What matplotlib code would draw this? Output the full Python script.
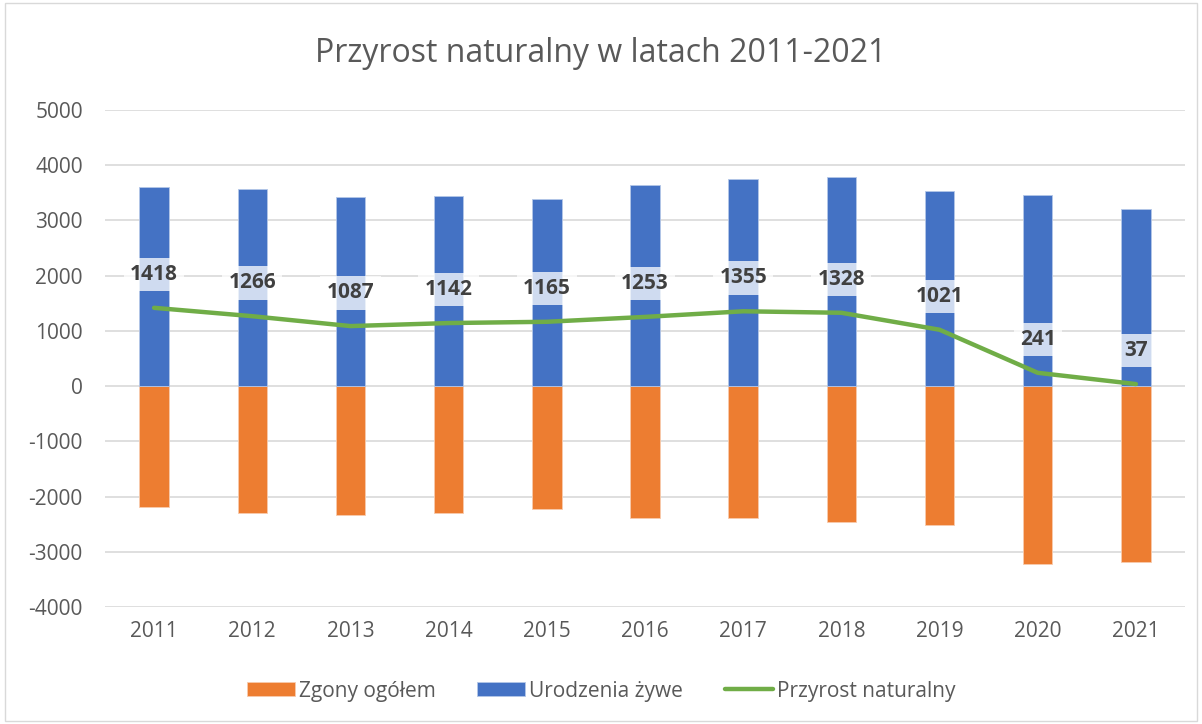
import matplotlib
matplotlib.use("Agg")
import matplotlib.pyplot as plt
import numpy as np

plt.rcParams['font.family'] = ['Open Sans', 'DejaVu Sans']
plt.rcParams['axes.unicode_minus'] = False

lata = ['2011', '2012', '2013', '2014', '2015', '2016', '2017', '2018', '2019', '2020', '2021']
urodzenia = [3600, 3565, 3420, 3445, 3390, 3640, 3750, 3780, 3540, 3455, 3215]
zgony = [-2182, -2299, -2333, -2303, -2225, -2387, -2395, -2452, -2519, -3214, -3178]
przyrost = [1418, 1266, 1087, 1142, 1165, 1253, 1355, 1328, 1021, 241, 37]

szary = '#595959'

fig = plt.figure(figsize=(12.02, 7.24), dpi=100)
ax = fig.add_axes([105/1202, 1-607/724, 1080/1202, 497/724])

x = np.arange(len(lata))
b1 = ax.bar(x, zgony, width=0.3, color='#ED7D31', edgecolor='#F8CBAD', linewidth=0.6, label='Zgony ogółem', zorder=2)
b2 = ax.bar(x, urodzenia, width=0.3, color='#4472C4', edgecolor='#B4C7E7', linewidth=0.6, label='Urodzenia żywe', zorder=2)
l1, = ax.plot(x, przyrost, color='#70AD47', linewidth=3.2, solid_capstyle='round', label='Przyrost naturalny', zorder=3)

# etykiety nad linia
for xi, v in zip(x, przyrost):
    ax.annotate(str(v), (xi, v), xytext=(0, 24), textcoords='offset points', ha='center', va='center',
                fontsize=15, fontweight='bold', color='#404040', zorder=4,
                bbox=dict(boxstyle='square,pad=0.3', facecolor='white', edgecolor='none', alpha=0.75))

ax.set_xlim(-0.5, 10.5)
ax.set_ylim(-4000, 5000)
ax.set_yticks(range(-4000, 5001, 1000))
ax.set_xticks(x)
ax.set_xticklabels(lata)
ax.yaxis.grid(True, color='#D9D9D9', linewidth=1.2, zorder=0)
ax.set_axisbelow(True)
for s in ax.spines.values():
    s.set_visible(False)
ax.tick_params(length=0, labelsize=15, labelcolor=szary)
ax.tick_params(axis='x', pad=10)
ax.tick_params(axis='y', pad=16)

fig.text(0.5, 1-54/724, 'Przyrost naturalny w latach 2011-2021', ha='center', va='center', fontsize=23, color=szary)

leg = fig.legend(handles=[b1, b2, l1], loc='center', bbox_to_anchor=(0.5, 1-691/724), ncol=3, frameon=False,
                 fontsize=15, handlelength=2.3, handleheight=0.65, columnspacing=2.0, handletextpad=0.2)
for t in leg.get_texts():
    t.set_color(szary)

# ramka wykresu
fig.patches.append(plt.Rectangle((0.004, 0.004), 0.992, 0.992, transform=fig.transFigure,
                                 fill=False, edgecolor='#D9D9D9', linewidth=1))

fig.savefig('out.png', dpi=100)
